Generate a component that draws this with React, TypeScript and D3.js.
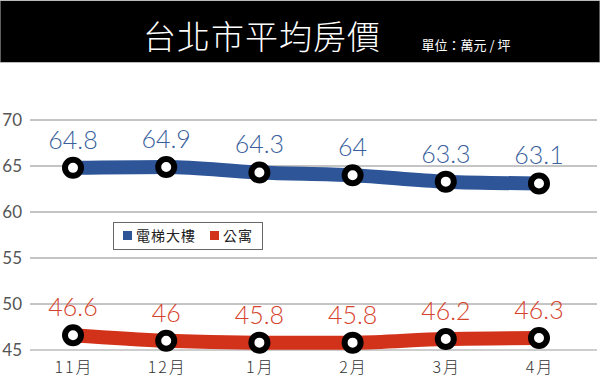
import React from "react";
import * as d3 from "d3";

const months = ["11月", "12月", "1月", "2月", "3月", "4月"];
const elevator = [64.8, 64.9, 64.3, 64, 63.3, 63.1];
const apartment = [46.6, 46, 45.8, 45.8, 46.2, 46.3];
const yTicks = [45, 50, 55, 60, 65, 70];
const seriesNames = ["電梯大樓", "公寓"];

const W = 600, H = 381;

export default function App() {
  const x = d3.scalePoint<string>().domain(months).range([73, 539]);
  const y = d3.scaleLinear().domain([45, 70]).range([350, 120]);
  const line = d3
    .line<number>()
    .x((_, i) => x(months[i]) as number)
    .y((d) => y(d))
    .curve(d3.curveMonotoneX);

  const series = [
    { name: seriesNames[0], data: elevator, color: "#2d5597", text: "#3a5f9c" },
    { name: seriesNames[1], data: apartment, color: "#d2321a", text: "#d6432c" },
  ];

  return (
    <svg
      width={W}
      height={H}
      style={{ position: "absolute", left: 0, top: 0, background: "#fff" }}
    >
      <rect x={0} y={0} width={W} height={H} fill="#fff" />
      {/* title bar */}
      <rect x={0} y={0.5} width={W} height={62} fill="#000" stroke="#bbb" strokeWidth={1} />
      <text
        x={262}
        y={49}
        textAnchor="middle"
        fill="#fff"
        fontSize={33}
        fontFamily="'Noto Sans CJK TC', sans-serif"
        fontWeight={300}
        letterSpacing={1}
      >
        台北市平均房價
      </text>
      <text
        x={466}
        y={50}
        textAnchor="middle"
        fill="#fff"
        fontSize={13}
        fontFamily="'Noto Sans CJK TC', sans-serif"
      >
        單位：萬元 / 坪
      </text>

      {/* gridlines */}
      {yTicks.map((t) => (
        <g key={t}>
          <line
            x1={30}
            x2={597}
            y1={y(t)}
            y2={y(t)}
            stroke={t === 45 ? "#bdbdbd" : "#8a8a8a"}
            strokeWidth={t === 45 ? 1.5 : 1}
          />
          <text
            x={22}
            y={y(t) + 6}
            textAnchor="end"
            fontSize={17}
            fill="#555"
            fontFamily="Lato, sans-serif"
          >
            {t}
          </text>
        </g>
      ))}

      {/* x labels */}
      {months.map((m) => (
        <text
          key={m}
          x={(x(m) as number) + 1}
          y={373}
          textAnchor="middle"
          fontSize={16}
          fill="#333"
          fontFamily="'Noto Sans CJK TC', serif"
          fontWeight={300}
          letterSpacing={2}
        >
          {m}
        </text>
      ))}

      {/* series */}
      {series.map((s) => (
        <g key={s.name}>
          <path d={line(s.data) || ""} fill="none" stroke={s.color} strokeWidth={14} />
          {s.data.map((v, i) => (
            <circle
              key={i}
              cx={x(months[i]) as number}
              cy={y(v)}
              r={8}
              fill="#fff"
              stroke="#000"
              strokeWidth={6}
            />
          ))}
          {s.data.map((v, i) => (
            <text
              key={"t" + i}
              x={x(months[i]) as number}
              y={y(v) - 19}
              textAnchor="middle"
              fontSize={25}
              fill={s.text}
              fontFamily="Lato, sans-serif"
              fontWeight={300}
            >
              {v}
            </text>
          ))}
        </g>
      ))}

      {/* legend */}
      <rect x={113.5} y={222.5} width={149} height={27} fill="#fff" stroke="#666" strokeWidth={1} />
      <rect x={123} y={231} width={9} height={9} fill={series[0].color} />
      <text x={136} y={241} fontSize={14} fill="#222" fontFamily="'Noto Sans CJK TC', sans-serif" letterSpacing={1}>
        {seriesNames[0]}
      </text>
      <rect x={210} y={231} width={9} height={9} fill={series[1].color} />
      <text x={223} y={241} fontSize={14} fill="#222" fontFamily="'Noto Sans CJK TC', sans-serif" letterSpacing={1}>
        {seriesNames[1]}
      </text>
    </svg>
  );
}
